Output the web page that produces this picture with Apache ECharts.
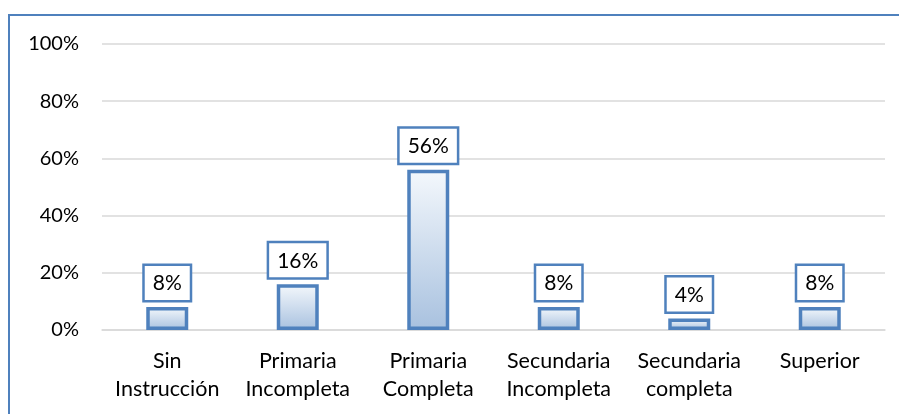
<!DOCTYPE html>
<html>
<head>
<meta charset="utf-8">
<script src="https://cdn.jsdelivr.net/npm/echarts@6/dist/echarts.min.js"></script>
<style>
  html, body { margin: 0; padding: 0; background: #fff; }
  #main { width: 899px; height: 414px; }
</style>
</head>
<body>
<div id="main"></div>
<script>
var categories = ['Sin\nInstrucción', 'Primaria\nIncompleta', 'Primaria\nCompleta', 'Secundaria\nIncompleta', 'Secundaria\ncompleta', 'Superior'];
var values = [8, 16, 56, 8, 4, 8];

(function() {
    var myChart = echarts.init(document.getElementById('main'));
    var font = 'Lato, "Open Sans", sans-serif';
    var blue = '#4F81BD';
    var option = {
        animation: false,
        graphic: [
            {
                type: 'rect',
                shape: { x: 9, y: 15, width: 1000, height: 600 },
                style: { fill: 'none', stroke: blue, lineWidth: 2 }
            }
        ],
        grid: { left: 102, right: 14, top: 44, bottom: 84 },
        xAxis: {
            type: 'category',
            data: categories,
            axisLine: { lineStyle: { color: '#D9D9D9', width: 1.5 } },
            axisTick: { show: false },
            axisLabel: {
                color: '#000', fontSize: 21.5, lineHeight: 28, margin: 17,
                fontFamily: font, interval: 0
            }
        },
        yAxis: {
            type: 'value',
            min: 0, max: 100, interval: 20,
            axisLine: { show: false },
            axisTick: { show: false },
            splitLine: { lineStyle: { color: '#D9D9D9', width: 1.5 } },
            axisLabel: {
                formatter: '{value}%', color: '#000', fontSize: 20,
                margin: 23, fontFamily: font
            }
        },
        series: [
            {
                type: 'bar',
                data: values,
                barWidth: 42,
                itemStyle: {
                    color: new echarts.graphic.LinearGradient(0, 0, 0, 1, [
                        { offset: 0, color: '#F4F8FC' },
                        { offset: 1, color: '#A8C1DF' }
                    ]),
                    borderColor: blue,
                    borderWidth: 3.5
                },
                label: {
                    show: true,
                    position: 'top',
                    distance: 7,
                    formatter: '{c}%',
                    color: '#000',
                    fontSize: 21,
                    fontFamily: font,
                    backgroundColor: '#fff',
                    borderColor: blue,
                    borderWidth: 2.5,
                    padding: [7, 8, 6, 8]
                }
            }
        ]
    };
    myChart.setOption(option);
    window.addEventListener('resize', function() {
        myChart.resize();
    });
})();
</script>
</body>
</html>
